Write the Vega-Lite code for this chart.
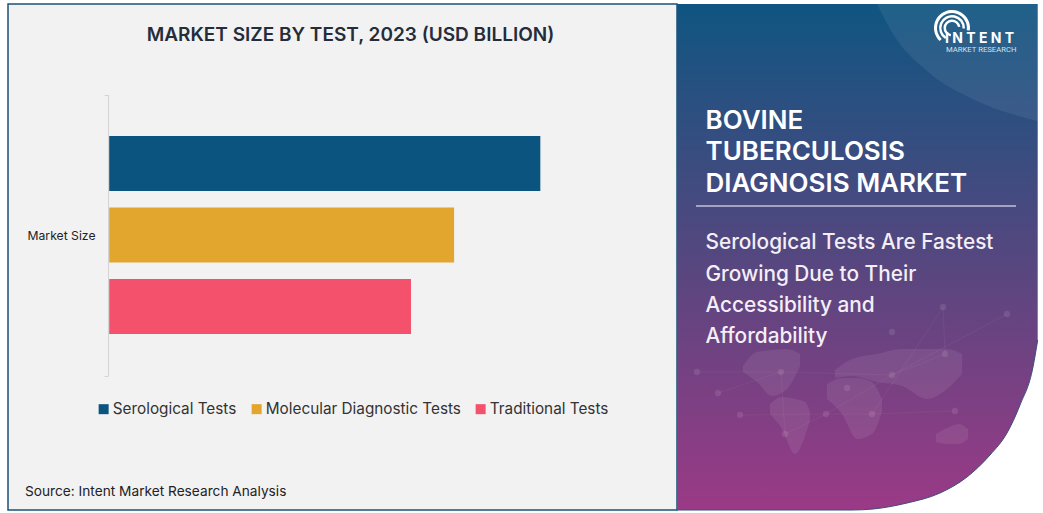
{
"$schema":"https://vega.github.io/schema/vega-lite/v6.json",
"background":"#ffffff",
"padding":{"left":8,"top":4,"right":1035,"bottom":509},
"autosize":{"type":"none"},
"spacing":0,
"bounds":"flush",
"config":{"view":{"continuousWidth":300},"concat":{"spacing":0}},
"datasets":{
"bars":[{"segment":"Market Size","test":"Serological Tests","size":100},{"segment":"Market Size","test":"Molecular Diagnostic Tests","size":80},{"segment":"Market Size","test":"Traditional Tests","size":70}],
"panel":[{"u":0,"top":0,"bot":506},{"u":175,"top":0,"bot":506},{"u":196,"top":0,"bot":505},{"u":230,"top":0,"bot":499},{"u":263,"top":0,"bot":489},{"u":290,"top":0,"bot":473},{"u":313,"top":0,"bot":451},{"u":330,"top":0,"bot":429},{"u":343,"top":0,"bot":401},{"u":356,"top":0,"bot":363},{"u":360.7,"top":0,"bot":336}],
"swoop":[{"u":200,"top":0,"bot":0},{"u":216,"top":0,"bot":30},{"u":250,"top":0,"bot":67},{"u":300,"top":0,"bot":97},{"u":360.7,"top":0,"bot":117}],
"land":[
{"c":"na","u":66,"top":362,"bot":368},{"c":"na","u":80,"top":348,"bot":378},{"c":"na","u":95,"top":346,"bot":392},{"c":"na","u":110,"top":345,"bot":385},{"c":"na","u":123,"top":350,"bot":362},
{"c":"sa","u":93,"top":400,"bot":410},{"c":"sa","u":105,"top":393,"bot":425},{"c":"sa","u":118,"top":395,"bot":450},{"c":"sa","u":128,"top":398,"bot":432},{"c":"sa","u":133,"top":408,"bot":416},
{"c":"af","u":150,"top":380,"bot":395},{"c":"af","u":165,"top":374,"bot":410},{"c":"af","u":180,"top":374,"bot":435},{"c":"af","u":195,"top":378,"bot":430},{"c":"af","u":205,"top":395,"bot":408},
{"c":"eu","u":158,"top":366,"bot":374},{"c":"eu","u":175,"top":355,"bot":372},{"c":"eu","u":200,"top":350,"bot":378},{"c":"eu","u":225,"top":345,"bot":382},{"c":"eu","u":250,"top":345,"bot":395},{"c":"eu","u":270,"top":345,"bot":385},{"c":"eu","u":285,"top":350,"bot":370},
{"c":"au","u":259,"top":430,"bot":438},{"c":"au","u":270,"top":424,"bot":440},{"c":"au","u":282,"top":420,"bot":440},{"c":"au","u":291,"top":425,"bot":435}],
"nodes":[{"u":41,"v":389},{"u":63,"v":411},{"u":149,"v":410},{"u":215,"v":371},{"u":278,"v":407},{"u":266,"v":303},{"u":215,"v":328},{"u":104,"v":368},{"u":170,"v":384},{"u":108,"v":430},{"u":268,"v":350},{"u":195,"v":410},{"u":330,"v":310},{"u":20,"v":368}],
"links":[{"k":1,"u":41,"v":389},{"k":1,"u":104,"v":368},{"k":1,"u":215,"v":371},{"k":1,"u":268,"v":350},{"k":2,"u":63,"v":411},{"k":2,"u":149,"v":410},{"k":2,"u":215,"v":371},{"k":2,"u":330,"v":310},{"k":3,"u":108,"v":430},{"k":3,"u":149,"v":410},{"k":3,"u":195,"v":410},{"k":3,"u":278,"v":407},{"k":4,"u":20,"v":368},{"k":4,"u":104,"v":368},{"k":4,"u":108,"v":430},{"k":5,"u":195,"v":410},{"k":5,"u":268,"v":350},{"k":5,"u":266,"v":303}],
"head":[{"t":"BOVINE","u":28.5,"v":116.5},{"t":"TUBERCULOSIS","u":28.5,"v":148},{"t":"DIAGNOSIS MARKET","u":28.5,"v":180}],
"sub":[{"t":"Serological Tests Are Fastest","u":28.5,"v":239},{"t":"Growing Due to Their","u":28.5,"v":271},{"t":"Accessibility and","u":28.5,"v":302},{"t":"Affordability","u":28.5,"v":333}],
"arcs":[{"u":275,"v":24,"t0":3.9,"t1":8.0,"r0":15,"r1":18},{"u":275,"v":24,"t0":3.7,"t1":7.9,"r0":10.5,"r1":13},{"u":275,"v":24,"t0":3.3,"t1":7.7,"r0":6,"r1":8.5}]
},
"hconcat":[
{"width":669,"height":506,
 "view":{"fill":"#f2f2f2","stroke":"#1a5276","strokeWidth":1.5},
 "title":{"text":"MARKET SIZE BY TEST, 2023  (USD BILLION)","font":"Inter","fontSize":19,"fontWeight":600,"color":"#252c3a","anchor":"middle","frame":"group","offset":-47,"dx":8},
 "data":{"name":"bars"},
 "mark":{"type":"bar"},
 "encoding":{
  "y":{"field":"segment","type":"nominal","scale":{"range":[90.5,371.5],"paddingInner":0,"paddingOuter":0},
    "axis":{"title":null,"offset":-100,"domainColor":"#d4d4d4","tickColor":"#d4d4d4","tickSize":4,"tickBand":"extent","labelFont":"Inter","labelFontSize":12.2,"labelColor":"#222222","labelPadding":9,"labelAngle":0}},
  "yOffset":{"field":"test","type":"nominal","sort":["Serological Tests","Molecular Diagnostic Tests","Traditional Tests"],"scale":{"paddingInner":0.2308,"paddingOuter":0.58}},
  "x":{"field":"size","type":"quantitative","scale":{"domain":[0,131.7],"range":[101.2,669],"nice":false,"zero":false},
    "axis":{"title":"Source: Intent Market Research Analysis","domain":false,"ticks":false,"labels":false,"grid":false,"titleFont":"Inter","titleFontSize":13.7,"titleFontWeight":400,"titleColor":"#222222","titleX":16.5,"titleY":-19,"titleAlign":"left","titleBaseline":"middle"}},
  "color":{"field":"test","type":"nominal","sort":["Serological Tests","Molecular Diagnostic Tests","Traditional Tests"],
    "scale":{"domain":["Serological Tests","Molecular Diagnostic Tests","Traditional Tests"],"range":["#0b5480","#e2a52e","#f4516c"]},
    "legend":{"title":null,"orient":"none","direction":"horizontal","legendX":88,"legendY":397.5,"symbolType":"square","symbolSize":100,"symbolStrokeWidth":0,"labelFont":"Inter","labelFontSize":15.3,"labelColor":"#333333","columnPadding":12,"labelOffset":1.5,"labelLimit":0}}
 }
},
{"width":360.7,"height":506,
 "view":{"stroke":null},
 "layer":[
  {"data":{"name":"panel"},
   "mark":{"type":"area","interpolate":"monotone","color":{"gradient":"linear","x1":0,"y1":0,"x2":0,"y2":1,"stops":[{"offset":0,"color":"#0f5581"},{"offset":0.5,"color":"#55477f"},{"offset":1,"color":"#9b3a86"}]}},
   "encoding":{"x":{"field":"u","type":"quantitative","scale":{"domain":[0,360.7],"nice":false},"axis":null},
     "y":{"field":"top","type":"quantitative","scale":{"domain":[506,0],"nice":false},"axis":null},"y2":{"field":"bot"}}},
  {"data":{"name":"panel"},
   "mark":{"type":"line","interpolate":"monotone","color":"#3d4c80","strokeWidth":1},
   "encoding":{"x":{"field":"u","type":"quantitative"},"y":{"field":"bot","type":"quantitative"}}},
  {"data":{"name":"swoop"},
   "mark":{"type":"area","interpolate":"monotone","color":"#ffffff","opacity":0.07},
   "encoding":{"x":{"field":"u","type":"quantitative"},"y":{"field":"top","type":"quantitative"},"y2":{"field":"bot"}}},
  {"data":{"name":"land"},
   "mark":{"type":"area","interpolate":"monotone","color":"#ffffff","opacity":0.08},
   "encoding":{"x":{"field":"u","type":"quantitative"},"y":{"field":"top","type":"quantitative"},"y2":{"field":"bot"},"detail":{"field":"c"}}},
  {"data":{"name":"links"},
   "mark":{"type":"line","color":"#ffffff","opacity":0.07,"strokeWidth":0.7},
   "encoding":{"x":{"field":"u","type":"quantitative"},"y":{"field":"v","type":"quantitative"},"detail":{"field":"k"},"order":{"field":"u"}}},
  {"data":{"name":"nodes"},
   "mark":{"type":"circle","color":"#ffffff","opacity":0.1,"size":40},
   "encoding":{"x":{"field":"u","type":"quantitative"},"y":{"field":"v","type":"quantitative"}}},
  {"data":{"name":"arcs"},
   "mark":{"type":"arc","color":"#ffffff"},
   "encoding":{"x":{"field":"u","type":"quantitative"},"y":{"field":"v","type":"quantitative"},
     "theta":{"field":"t0","type":"quantitative","scale":null},"theta2":{"field":"t1"},
     "radius":{"field":"r0","type":"quantitative","scale":null},"radius2":{"field":"r1"}}},
  {"data":{"values":[{"t":"INTENT","u":268,"v":35}]},
   "mark":{"type":"text","text":"I N T E N T","align":"left","baseline":"middle","font":"Inter","fontSize":14,"fontWeight":700,"color":"#ffffff"},
   "encoding":{"x":{"field":"u","type":"quantitative"},"y":{"field":"v","type":"quantitative"}}},
  {"data":{"values":[{"u":269,"v":46}]},
   "mark":{"type":"text","text":"MARKET RESEARCH","align":"left","baseline":"middle","font":"Roboto","fontSize":7.7,"color":"#cfe4f2"},
   "encoding":{"x":{"field":"u","type":"quantitative"},"y":{"field":"v","type":"quantitative"}}},
  {"data":{"name":"head"},
   "mark":{"type":"text","align":"left","baseline":"middle","font":"Inter","fontSize":26,"fontWeight":600,"color":"#ffffff"},
   "encoding":{"x":{"field":"u","type":"quantitative"},"y":{"field":"v","type":"quantitative"},"text":{"field":"t"}}},
  {"data":{"name":"sub"},
   "mark":{"type":"text","align":"left","baseline":"middle","font":"Inter","fontSize":20.8,"fontWeight":500,"color":"#f4eef6"},
   "encoding":{"x":{"field":"u","type":"quantitative"},"y":{"field":"v","type":"quantitative"},"text":{"field":"t"}}},
  {"data":{"values":[{"a":19,"b":339,"v":202}]},
   "mark":{"type":"rule","color":"#ffffff","strokeWidth":1},
   "encoding":{"x":{"field":"a","type":"quantitative"},"x2":{"field":"b"},"y":{"field":"v","type":"quantitative"}}}
 ]
}
]
}
